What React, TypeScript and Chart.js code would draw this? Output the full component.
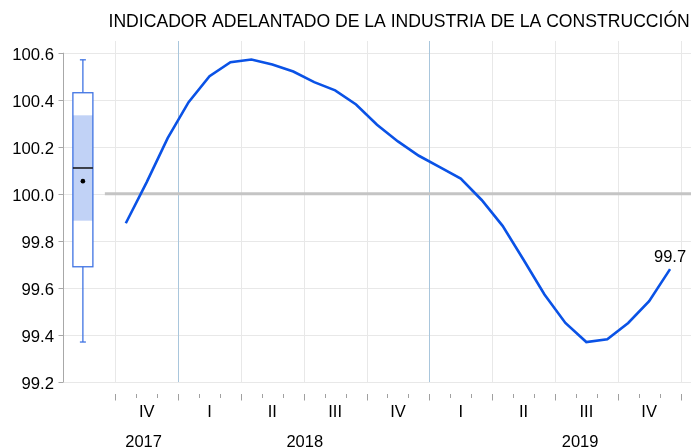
import React, { useEffect, useRef } from "react";
import { Chart, registerables } from "chart.js";

Chart.register(...registerables);

const TITLE = "INDICADOR ADELANTADO DE LA INDUSTRIA DE LA CONSTRUCCIÓN";

const monthLabels = [
  "2017-10", "2017-11", "2017-12",
  "2018-01", "2018-02", "2018-03", "2018-04", "2018-05", "2018-06",
  "2018-07", "2018-08", "2018-09", "2018-10", "2018-11", "2018-12",
  "2019-01", "2019-02", "2019-03", "2019-04", "2019-05", "2019-06",
  "2019-07", "2019-08", "2019-09", "2019-10", "2019-11", "2019-12",
];

const values = [
  99.875, 100.05, 100.237,
  100.39, 100.5, 100.56, 100.571, 100.55, 100.52,
  100.475, 100.44, 100.38, 100.294, 100.223, 100.162,
  100.114, 100.065, 99.974, 99.864, 99.72, 99.572,
  99.451, 99.37, 99.382, 99.451, 99.544, 99.68,
];

const quarterLabels = ["IV", "I", "II", "III", "IV", "I", "II", "III", "IV"];
const yearLabels = ["2017", "2018", "2019"];
const yTicks = [99.2, 99.4, 99.6, 99.8, 100.0, 100.2, 100.4, 100.6];
const yTickLabels = ["99.2", "99.4", "99.6", "99.8", "100.0", "100.2", "100.4", "100.6"];
const lastValueLabel = "99.7";
const referenceValue = 100.0;

// box plot summary of the series
const boxMin = 99.37;
const boxQ1 = 99.69;
const boxMedian = 100.11;
const boxQ3 = 100.43;
const boxMax = 100.57;
const boxMean = 100.054;
const boxBandLow = 99.886;
const boxBandHigh = 100.334;

const FONT = "'Liberation Sans', Arial, sans-serif";

function line(ctx: CanvasRenderingContext2D, x1: number, y1: number, x2: number, y2: number) {
  ctx.beginPath();
  ctx.moveTo(x1, y1);
  ctx.lineTo(x2, y2);
  ctx.stroke();
}

const decoPlugin = {
  id: "deco",
  beforeDatasetsDraw(chart: any) {
    const { ctx, chartArea: ca, scales } = chart;
    const x = scales.x;
    const y = scales.y;
    ctx.save();
    // horizontal grid
    ctx.strokeStyle = "#e8e8e8";
    ctx.lineWidth = 1;
    for (const t of yTicks) {
      const py = Math.round(y.getPixelForValue(t)) + 0.5;
      line(ctx, ca.left, py, ca.right, py);
    }
    // vertical grid at quarter boundaries
    for (let q = 0; q <= quarterLabels.length; q++) {
      const m = q * 3;
      const isYear = m < monthLabels.length && monthLabels[m].endsWith("-01");
      ctx.strokeStyle = isYear ? "#a9c6dc" : "#e8e8e8";
      const px = Math.round(x.getPixelForValue(m)) + 0.5;
      line(ctx, px, ca.top, px, ca.bottom);
    }
    // reference line at 100
    ctx.strokeStyle = "#c4c4c4";
    ctx.lineWidth = 3;
    const ry = y.getPixelForValue(referenceValue);
    line(ctx, x.getPixelForValue(-0.5), ry, ca.right, ry);

    // box plot
    const bc = x.getPixelForValue(-1.55);
    const hw = 10;
    const pQ1 = y.getPixelForValue(boxQ1);
    const pQ3 = y.getPixelForValue(boxQ3);
    ctx.fillStyle = "#ffffff";
    ctx.fillRect(bc - hw, pQ3, hw * 2, pQ1 - pQ3);
    const pBL = y.getPixelForValue(boxBandLow);
    const pBH = y.getPixelForValue(boxBandHigh);
    ctx.fillStyle = "#c1d2f6";
    ctx.fillRect(bc - hw, pBH, hw * 2, pBL - pBH);
    ctx.strokeStyle = "#3f73e3";
    ctx.lineWidth = 1.3;
    ctx.strokeRect(bc - hw, pQ3, hw * 2, pQ1 - pQ3);
    const pMax = y.getPixelForValue(boxMax);
    const pMin = y.getPixelForValue(boxMin);
    line(ctx, bc, pQ3, bc, pMax);
    line(ctx, bc, pQ1, bc, pMin);
    line(ctx, bc - 3, pMax, bc + 3, pMax);
    line(ctx, bc - 3, pMin, bc + 3, pMin);
    ctx.strokeStyle = "#111111";
    ctx.lineWidth = 1.5;
    const pMed = y.getPixelForValue(boxMedian);
    line(ctx, bc - hw, pMed, bc + hw, pMed);
    ctx.fillStyle = "#000000";
    ctx.beginPath();
    ctx.arc(bc, y.getPixelForValue(boxMean), 2.3, 0, Math.PI * 2);
    ctx.fill();
    ctx.restore();
  },
  afterDatasetsDraw(chart: any) {
    const { ctx, scales } = chart;
    const x = scales.x;
    const y = scales.y;
    ctx.save();
    const i = values.length - 1;
    ctx.fillStyle = "#000000";
    ctx.font = `16.5px ${FONT}`;
    ctx.textAlign = "center";
    ctx.textBaseline = "alphabetic";
    ctx.fillText(lastValueLabel, x.getPixelForValue(i + 0.5), y.getPixelForValue(values[i]) - 7.5);
    ctx.restore();
  },
  afterDraw(chart: any) {
    const { ctx, scales } = chart;
    const x = scales.x;
    const y = scales.y;
    ctx.save();
    // y axis
    const ax = 63.5;
    ctx.strokeStyle = "#a8a8a8";
    ctx.lineWidth = 1;
    line(ctx, ax, y.getPixelForValue(yTicks[yTicks.length - 1]), ax, y.getPixelForValue(yTicks[0]));
    ctx.fillStyle = "#000000";
    ctx.font = `16.7px ${FONT}`;
    ctx.textAlign = "right";
    ctx.textBaseline = "alphabetic";
    yTicks.forEach((t, k) => {
      const py = Math.round(y.getPixelForValue(t)) + 0.5;
      line(ctx, ax - 5, py, ax, py);
      ctx.fillText(yTickLabels[k], 54, py + 6);
    });
    // x ticks
    ctx.strokeStyle = "#a0a0a0";
    for (let m = 0; m <= monthLabels.length; m++) {
      const px = Math.round(x.getPixelForValue(m)) + 0.5;
      line(ctx, px, 394, px, m % 3 === 0 ? 400.5 : 398);
    }
    // quarter labels
    ctx.font = `16.5px ${FONT}`;
    ctx.textAlign = "center";
    quarterLabels.forEach((q, k) => {
      ctx.fillText(q, x.getPixelForValue(k * 3 + 1.5), 416.5);
    });
    // year labels
    const yearAt = [1.35, 9.05, 22.2];
    yearLabels.forEach((yl, k) => {
      ctx.fillText(yl, x.getPixelForValue(yearAt[k]), 447);
    });
    // title
    ctx.textAlign = "left";
    ctx.font = `17.6px ${FONT}`;
    ctx.fillText(TITLE, 108.5, 27);
    ctx.restore();
  },
};

export default function App() {
  const ref = useRef<HTMLCanvasElement | null>(null);
  useEffect(() => {
    document.body.style.margin = "0";
    const canvas = ref.current;
    if (!canvas) return;
    const chart = new Chart(canvas, {
      type: "line",
      data: {
        datasets: [
          {
            data: values.map((v, i) => ({ x: i + 0.5, y: v })),
            borderColor: "#0a52e6",
            borderWidth: 2.6,
            pointRadius: 0,
            tension: 0,
            fill: false,
          },
        ],
      },
      options: {
        responsive: false,
        animation: false,
        devicePixelRatio: 1,
        layout: { padding: { left: 63, right: 0, top: 41, bottom: 66 } },
        plugins: { legend: { display: false }, tooltip: { enabled: false }, title: { display: false } },
        scales: {
          x: { type: "linear", min: -2.5, max: 27.5, display: false },
          y: { type: "linear", min: 99.2, max: 100.65, display: false },
        },
      },
      plugins: [decoPlugin],
    });
    return () => chart.destroy();
  }, []);
  return (
    <div style={{ position: "absolute", left: 0, top: 0, width: 691, height: 448 }}>
      <canvas ref={ref} width={691} height={448} style={{ width: 691, height: 448, display: "block" }} />
    </div>
  );
}
